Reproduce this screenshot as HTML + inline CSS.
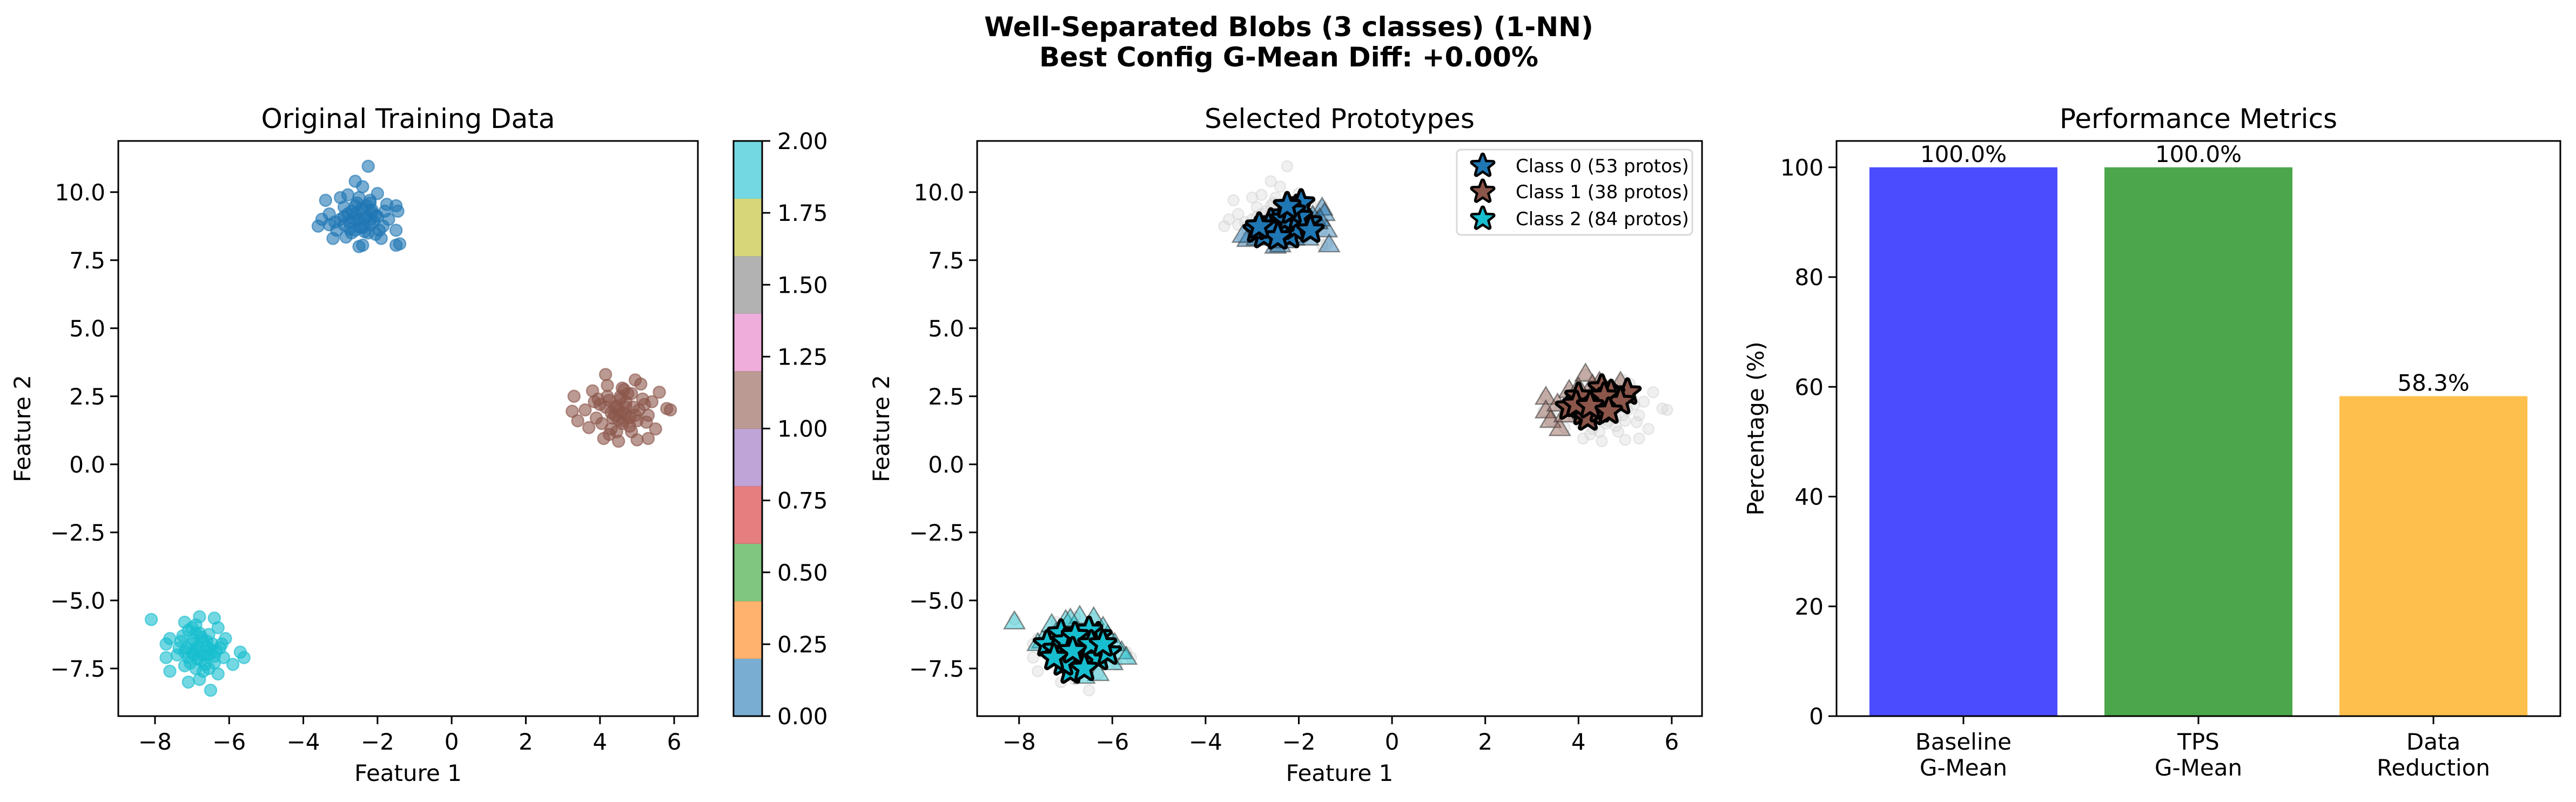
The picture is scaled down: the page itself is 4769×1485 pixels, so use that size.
<!DOCTYPE html>
<html><head><meta charset="utf-8"><style>
html,body{margin:0;padding:0;background:#fff;}
svg{display:block;font-family:"DejaVu Sans","Liberation Sans",sans-serif;}
</style></head><body>
<svg id="fig" width="4769" height="1485" viewBox="0 0 4769 1485" xmlns="http://www.w3.org/2000/svg">
<rect width="4769" height="1485" fill="#fff"/>
<text x="2386" y="67" text-anchor="middle" font-size="50" font-weight="bold">Well-Separated Blobs (3 classes) (1-NN)</text>
<text x="2386" y="123" text-anchor="middle" font-size="50" font-weight="bold">Best Config G-Mean Diff: +0.00%</text>
<g id="p1"></g>
<g id="p2"></g>
<g id="p3"></g>
</svg>
<script>
// ---- data ----
const class0X=[-2.25,-2.6,-2.4,-3.4,-2.8,-2.0,-3.0,-1.5,-1.45,-3.6,-3.5,-3.2,-2.5,-2.4,-1.5,-1.4,-1.5,-1.9,-2.7,-2.2,-2.6,-2.3,-2.9,-2.0,-1.8,-3.1,-2.45,-2.15,-2.75,-2.35,-2.55,-1.7,-3.3,-2.05,-2.85,-2.4,-2.6,-2.2,
 -2.5,-2.3,-2.7,-2.1,-2.9,-2.4,-2.6,-2.2,-1.95,-2.8,-3.0,-2.35,-2.55,-2.15,-1.85,-3.15,-2.65,-2.45,-2.05,-2.75,-2.25,-3.3,-1.75,-2.5,-2.9,-2.2];
const class0Y=[10.95,10.4,10.2,9.7,9.9,9.95,9.8,9.5,9.3,8.75,9.0,8.3,8.0,8.05,8.05,8.1,8.6,8.3,8.5,8.8,9.2,9.5,9.1,9.1,9.3,8.6,8.7,9.35,8.9,9.0,9.6,9.0,9.2,8.45,8.35,9.4,8.6,9.7,
 9.0,9.1,9.3,8.9,8.8,8.7,9.5,9.6,8.6,9.2,9.0,8.55,8.95,9.25,8.75,8.9,9.05,9.35,9.15,8.65,8.5,8.8,9.55,9.8,9.45,9.0];
const class1X=[4.15,3.3,3.25,3.4,3.7,4.1,4.5,5.0,5.3,5.5,5.9,5.8,5.6,5.4,4.95,5.1,4.6,4.2,3.8,3.6,4.0,4.4,4.7,5.0,4.3,4.8,4.55,5.2,3.9,4.6,4.25,4.85,5.3,4.05,4.45,4.7,
 4.5,4.6,4.4,4.7,4.8,4.3,4.9,4.2,5.05,4.65,4.35,4.55,4.75,4.15,4.95,5.15,3.95,4.45,4.85,4.25,4.65,5.25,3.85,4.5];
const class1Y=[3.3,2.5,1.95,1.6,1.35,0.95,0.85,0.9,0.95,1.3,2.0,2.05,2.65,2.3,3.1,2.95,2.8,2.9,2.7,2.0,2.2,1.8,2.1,1.6,1.3,1.4,2.5,2.2,1.7,1.5,2.35,2.6,1.8,1.5,2.15,1.85,
 2.0,1.9,2.1,2.3,1.7,1.9,2.1,2.5,2.0,1.6,1.7,2.4,2.6,2.1,1.8,2.4,2.4,1.2,1.2,1.1,2.75,1.55,2.3,1.65];
const class2X=[-8.1,-7.2,-6.8,-6.4,-7.6,-7.7,-7.7,-7.6,-7.1,-6.5,-6.8,-6.3,-5.9,-5.6,-5.7,-6.1,-6.2,-6.9,-7.3,-7.0,-6.6,-6.4,-7.2,-6.7,-6.3,-7.0,-7.4,-6.9,-6.5,-6.15,-6.75,-7.15,-6.55,-6.85,
 -6.8,-6.9,-6.7,-7.0,-6.6,-7.1,-6.5,-6.85,-6.95,-6.75,-6.45,-7.2,-6.35,-7.05,-6.65,-6.8,-6.9,-7.25,-6.55,-6.25,-7.1,-6.7,-6.4,-7.35,-6.95,-6.6];
const class2Y=[-5.7,-5.8,-5.6,-5.65,-6.4,-6.6,-7.1,-7.6,-8.0,-8.3,-7.9,-7.7,-7.35,-7.1,-6.9,-6.4,-6.6,-6.2,-6.5,-6.9,-7.0,-7.3,-7.4,-6.5,-6.0,-6.0,-7.0,-7.5,-6.8,-7.1,-7.2,-6.75,-6.25,-6.7,
 -6.9,-6.8,-7.0,-6.6,-6.7,-7.1,-6.95,-7.15,-6.45,-6.35,-6.6,-6.9,-6.85,-7.3,-7.35,-6.2,-5.9,-6.3,-7.5,-6.75,-6.1,-7.6,-7.05,-6.75,-7.0,-6.5];
const tri0X=[-3.1,-2.9,-2.5,-2.4,-2.1,-1.8,-1.5,-1.45,-1.4,-1.35,-1.7,-2.0,-2.7,-3.2,-1.6,-2.3,-1.9,-1.55];
const tri0Y=[8.25,8.3,8.0,8.05,8.3,8.3,9.4,9.2,8.6,8.05,9.1,8.9,8.4,8.4,8.9,8.2,9.3,9.0];
const tri1X=[3.3,3.3,3.4,3.6,3.8,3.9,4.15,4.3,4.6,4.9,5.0,3.7,3.55,4.0,4.45];
const tri1Y=[2.45,1.95,1.6,1.3,2.7,2.0,3.3,2.9,2.7,3.0,2.5,1.8,2.2,2.8,3.0];
const tri2X=[-8.1,-7.5,-7.3,-7.0,-6.7,-6.4,-6.1,-5.8,-5.7,-6.3,-6.0,-6.6,-7.2,-6.9,-6.2,-5.95,-7.6];
const tri2Y=[-5.8,-6.5,-5.9,-5.75,-5.6,-5.65,-6.3,-6.9,-7.1,-7.7,-7.3,-7.8,-6.2,-5.7,-6.0,-6.6,-6.6];
const star0X=[-2.9,-2.5,-2.2,-2.35,-2.05,-1.8,-2.6,-2.1,-1.95,-2.75,-2.4,-2.3,-2.0,-2.65,-2.15,-1.75,-2.45,-2.85,-2.25];
const star0Y=[8.6,8.55,8.4,9.15,9.4,8.9,8.9,8.7,9.6,8.4,8.8,9.0,9.1,8.7,9.3,8.6,8.35,8.75,9.5];
const star1X=[3.8,4.1,4.35,4.5,4.8,5.05,4.3,4.6,4.0,4.2,4.7,4.45,4.9,3.95,4.55,4.25,4.65];
const star1Y=[2.1,1.9,2.4,2.8,2.4,2.65,1.9,2.2,2.5,1.7,2.6,2.0,2.3,2.2,2.5,2.15,1.95];
const star2X=[-7.4,-7.1,-7.2,-6.9,-6.6,-6.3,-6.7,-6.3,-6.9,-6.5,-6.1,-7.0,-6.8,-6.45,-7.05,-6.6,-6.85,-6.2,-7.25];
const star2Y=[-6.6,-6.2,-6.8,-7.0,-6.7,-6.3,-7.3,-7.1,-7.6,-6.1,-6.9,-6.5,-6.3,-6.6,-7.3,-7.5,-6.85,-6.6,-7.1];
const legendLabels=["Class 0 (53 protos)","Class 1 (38 protos)","Class 2 (84 protos)"];
const xTicks=[-8,-6,-4,-2,0,2,4,6];
const yTicks=[-7.5,-5.0,-2.5,0.0,2.5,5.0,7.5,10.0];
const cbTicks=[0,0.25,0.5,0.75,1.0,1.25,1.5,1.75,2.0];
const barCats=[["Baseline","G-Mean"],["TPS","G-Mean"],["Data","Reduction"]];
const barVals=[100.0,100.0,58.3];
const barTicks=[0,20,40,60,80,100];

const NS="http://www.w3.org/2000/svg";
const C=["#1f77b4","#8c564b","#17becf"];
function el(p,tag,a){const e=document.createElementNS(NS,tag);for(const k in a)e.setAttribute(k,a[k]);p.appendChild(e);return e;}
function txt(p,s,a){const e=el(p,'text',a);e.textContent=s;return e;}
function lin(d0,d1,r0,r1){return v=>r0+(v-d0)/(d1-d0)*(r1-r0);}
function fmt(v){return (v<0?'\u2212':'')+Math.abs(v).toFixed(1);}
function starPath(cx,cy,R){let r=R*0.42,d='';for(let i=0;i<10;i++){const rr=i%2?r:R;const a=-Math.PI/2+i*Math.PI/5;d+=(i?'L':'M')+(cx+rr*Math.cos(a)).toFixed(1)+','+(cy+rr*Math.sin(a)).toFixed(1);}return d+'Z';}
function triPath(cx,cy,s){return `M${cx},${cy-s}L${cx+s*0.95},${cy+s*0.6}L${cx-s*0.95},${cy+s*0.6}Z`;}

function axesFrame(g,L,T,R,B,X,Y,title,ylabX){
  txt(g,title,{x:(L+R)/2,y:237,'text-anchor':'middle','font-size':50,});
  xTicks.forEach(v=>{const x=X(v);
    const t=el(g,'line',{x1:x,x2:x,y1:B,y2:B+15,stroke:'#000','stroke-width':3});
    
    const l=txt(g,(v<0?'\u2212':'')+Math.abs(v),{x:x,y:B+62,'text-anchor':'middle','font-size':42});
    });
  yTicks.forEach(v=>{const y=Y(v);
    const t=el(g,'line',{x1:L-15,x2:L,y1:y,y2:y,stroke:'#000','stroke-width':3});
    
    const l=txt(g,fmt(v),{x:L-24,y:y+15,'text-anchor':'end','font-size':42});
    });
  txt(g,'Feature 1',{x:(L+R)/2,y:1446,'text-anchor':'middle','font-size':42,});
  txt(g,'Feature 2',{x:ylabX,y:(T+B)/2,'text-anchor':'middle','font-size':42,transform:`rotate(-90 ${ylabX} ${(T+B)/2})`,});
}
const CX=[class0X,class1X,class2X],CY=[class0Y,class1Y,class2Y];

// ---- panel 1 ----
(function(){
  const g=document.getElementById('p1');
  const L=219,R=1292,T=261,B=1326;
  const X=lin(-8.99,6.64,L,R),Y=lin(-9.25,11.88,B,T);
  for(let c=0;c<3;c++)for(let i=0;i<CX[c].length;i++){
    const m=el(g,'circle',{cx:X(CX[c][i]),cy:Y(CY[c][i]),r:11,fill:C[c],'fill-opacity':0.6,stroke:C[c],'stroke-opacity':0.6,'stroke-width':2.5});
    
    }
  el(g,'rect',{x:L,y:T,width:R-L,height:B-T,fill:'none',stroke:'#000','stroke-width':3,});
  axesFrame(g,L,T,R,B,X,Y,'Original Training Data',56);
  const cb=['#1f77b4','#ff7f0e','#2ca02c','#d62728','#9467bd','#8c564b','#e377c2','#7f7f7f','#bcbd22','#17becf'];
  const cL=1358,cR=1411,CY2=lin(0,2,B,T);
  cb.forEach((col,i)=>{const y0=CY2(i*0.2),y1=CY2((i+1)*0.2);
    const r=el(g,'rect',{x:cL,y:y1,width:cR-cL,height:y0-y1+0.5,fill:col,'fill-opacity':0.6});
    });
  el(g,'rect',{x:cL,y:T,width:cR-cL,height:B-T,fill:'none',stroke:'#000','stroke-width':3,});
  cbTicks.forEach(v=>{const y=CY2(v);
    const t=el(g,'line',{x1:cR,x2:cR+15,y1:y,y2:y,stroke:'#000','stroke-width':3});
    
    const l=txt(g,v.toFixed(2),{x:cR+28,y:y+15,'font-size':42});
    });
})();

// ---- panel 2 ----
(function(){
  const g=document.getElementById('p2');
  const L=1809,R=3151,T=261,B=1326;
  const X=lin(-8.9,6.65,L,R),Y=lin(-9.25,11.88,B,T);
  for(let c=0;c<3;c++)for(let i=0;i<CX[c].length;i++){
    const m=el(g,'circle',{cx:X(CX[c][i]),cy:Y(CY[c][i]),r:10,fill:'#d3d3d3','fill-opacity':0.35,stroke:'#d3d3d3','stroke-opacity':0.5,'stroke-width':2.5});
    
    }
  const TX=[tri0X,tri1X,tri2X],TY=[tri0Y,tri1Y,tri2Y];
  for(let c=0;c<3;c++)for(let i=0;i<TX[c].length;i++){
    const m=el(g,'path',{d:triPath(X(TX[c][i]),Y(TY[c][i]),20),fill:C[c],'fill-opacity':0.45,stroke:'#333','stroke-opacity':0.55,'stroke-width':2.5});
    
    }
  const SX=[star0X,star1X,star2X],SY=[star0Y,star1Y,star2Y];
  for(let c=0;c<3;c++)for(let i=0;i<SX[c].length;i++){
    const m=el(g,'path',{d:starPath(X(SX[c][i]),Y(SY[c][i]),22),fill:C[c],stroke:'#000','stroke-width':11,'stroke-linejoin':'round','paint-order':'stroke'});
    
    }
  el(g,'rect',{x:L,y:T,width:R-L,height:B-T,fill:'none',stroke:'#000','stroke-width':3,});
  axesFrame(g,L,T,R,B,X,Y,'Selected Prototypes',1646);
  const lg=el(g,'g',{});
  el(lg,'rect',{x:2697,y:277,width:436,height:158,rx:8,fill:'#fff','fill-opacity':0.8,stroke:'#d9d9d9','stroke-width':3});
  const ly=[307,355,405];
  legendLabels.forEach((s,i)=>{
    const st=el(lg,'path',{d:starPath(2745,ly[i],20),fill:C[i],stroke:'#000','stroke-width':9,'stroke-linejoin':'round','paint-order':'stroke'});
    
    const t=txt(lg,s,{x:2806,y:ly[i]+12,'font-size':34});
    });
})();

// ---- panel 3 ----
(function(){
  const g=document.getElementById('p3');
  const L=3400,R=4740,T=261,B=1326;
  const X=lin(-0.54,2.54,L,R),Y=lin(0,104.8,B,T);
  const cols=['#4c4cff','#4ca64c','#ffbf4c'];
  barVals.forEach((v,i)=>{
    const w=X(0.4)-X(0);
    const b=el(g,'rect',{x:X(i)-w,y:Y(v),width:2*w,height:Y(0)-Y(v),fill:cols[i]});
    
    const l=txt(g,v.toFixed(1)+'%',{x:X(i),y:Y(v)-10,'text-anchor':'middle','font-size':42});
    
    const t=el(g,'line',{x1:X(i),x2:X(i),y1:B,y2:B+15,stroke:'#000','stroke-width':3});
    
    barCats[i].forEach((s,j)=>{const c=txt(g,s,{x:X(i),y:B+62+j*48,'text-anchor':'middle','font-size':42});
      });
  });
  barTicks.forEach(v=>{const y=Y(v);
    const t=el(g,'line',{x1:L-15,x2:L,y1:y,y2:y,stroke:'#000','stroke-width':3});
    
    const l=txt(g,String(v),{x:L-24,y:y+15,'text-anchor':'end','font-size':42});
    });
  el(g,'rect',{x:L,y:T,width:R-L,height:B-T,fill:'none',stroke:'#000','stroke-width':3,});
  txt(g,'Performance Metrics',{x:(L+R)/2,y:237,'text-anchor':'middle','font-size':50,});
  txt(g,'Percentage (%)',{x:3265,y:(T+B)/2,'text-anchor':'middle','font-size':42,transform:`rotate(-90 3265 ${(T+B)/2})`,});
})();
</script>
</body></html>
